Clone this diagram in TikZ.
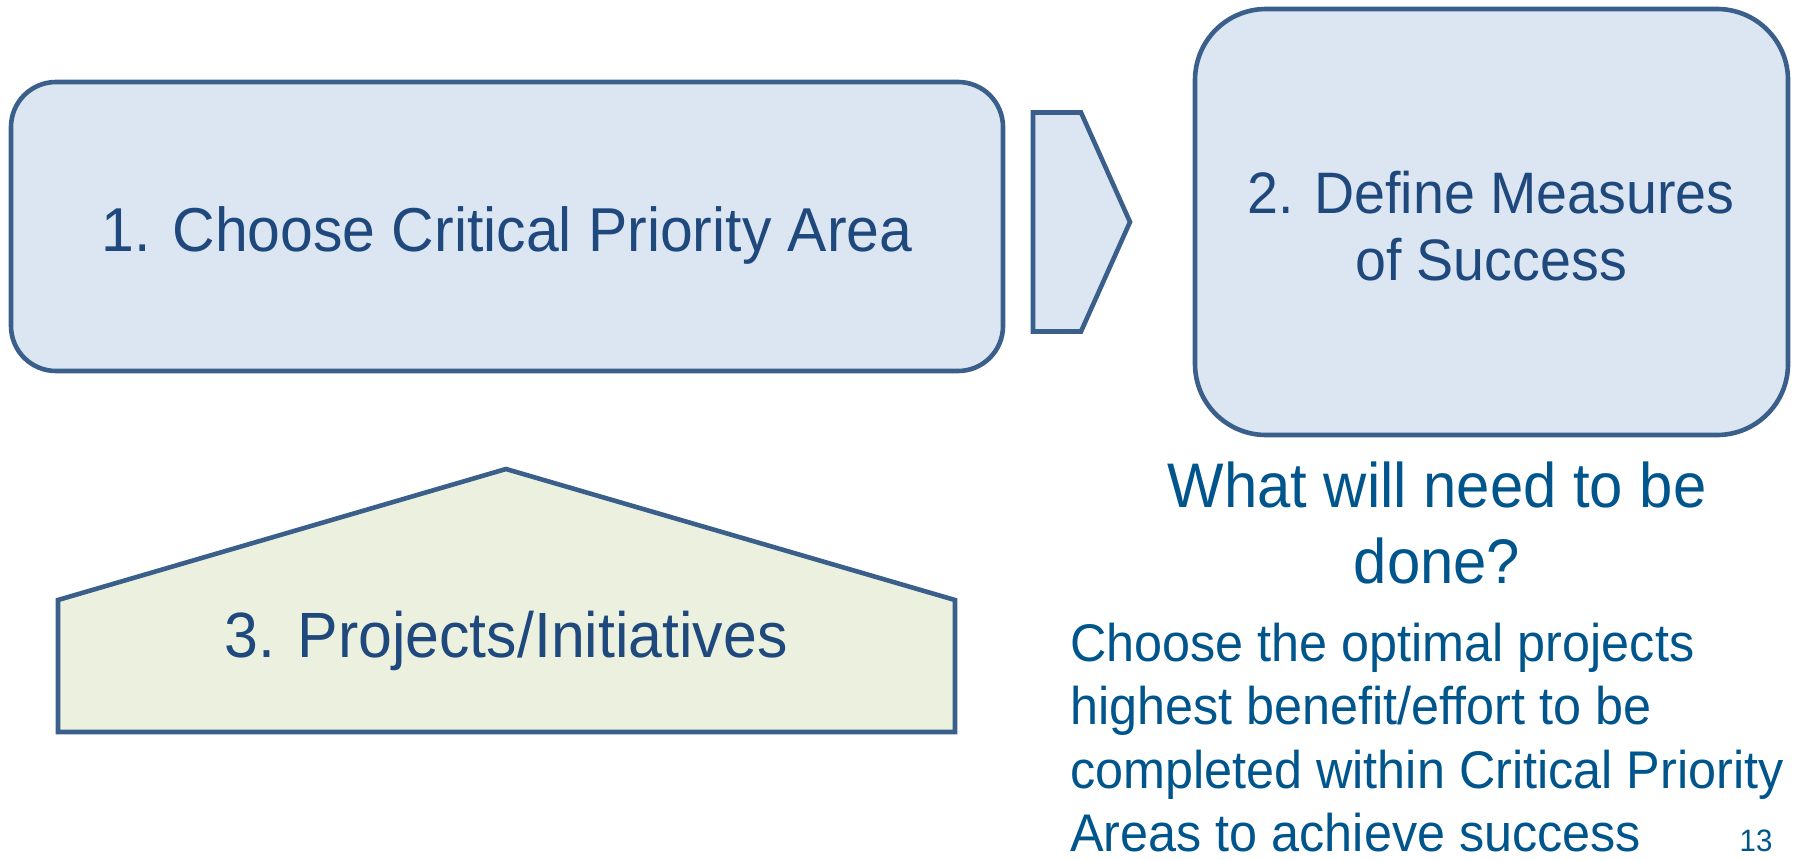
\documentclass[tikz,border=0pt]{standalone}
\usepackage{fontspec}
\setmainfont[FakeStretch=0.95]{Liberation Sans}
\definecolor{boxfill}{HTML}{DCE6F2}
\definecolor{greenfill}{HTML}{EBF1DE}
\definecolor{edge}{HTML}{3A5F8B}
\definecolor{boxtext}{HTML}{1F497D}
\definecolor{outtext}{HTML}{00558C}
\tikzset{
  stepbox/.style={draw=edge, line width=4.6pt, fill=boxfill, inner sep=0pt},
  shapeline/.style={draw=edge, line width=4.6pt, line join=miter},
  boxlabel/.style={text=boxtext, anchor=base, inner sep=0pt},
  outlabel/.style={text=outtext, anchor=base, inner sep=0pt},
}
\begin{document}
\begin{tikzpicture}[x=1pt,y=-1pt]
\useasboundingbox (0,0) rectangle (1795,859);
% box 1
\node[stepbox, rounded corners=45pt, minimum width=992pt, minimum height=289pt] (b1) at (507,226.5) {};
\node[boxlabel, font=\fontsize{62}{70}\selectfont] (t1) at (507,251) {1. Choose Critical Priority Area};
% chevron arrow
\draw[shapeline, fill=boxfill] (1033,112.5) -- (1081,112.5) -- (1130,222) -- (1081,331.5) -- (1033,331.5) -- cycle;
% box 2
\node[stepbox, rounded corners=71pt, minimum width=593pt, minimum height=426pt] (b2) at (1491.5,222) {};
\node[boxlabel, font=\fontsize{58.5}{66}\selectfont] (t2a) at (1491,213) {2. Define Measures};
\node[boxlabel, font=\fontsize{58.5}{66}\selectfont] (t2b) at (1491,280) {of Success};
% pentagon
\draw[shapeline, fill=greenfill] (58,732) -- (58,600) -- (506,469) -- (955,600) -- (955,732) -- cycle;
\node[boxlabel, font=\fontsize{64}{72}\selectfont] (t3) at (506,657) {3. Projects/Initiatives};
% question
\node[outlabel, font=\fontsize{63}{70}\selectfont] (q1) at (1437,507) {What will need to be};
\node[outlabel, font=\fontsize{63}{70}\selectfont] (q2) at (1437,583) {done?};
% paragraph
\node[outlabel, anchor=base west, font=\fontsize{53}{60}\selectfont] (p1) at (1070,661) {Choose the optimal projects};
\node[outlabel, anchor=base west, font=\fontsize{53}{60}\selectfont] (p2) at (1070,724.5) {highest benefit/effort to be};
\node[outlabel, anchor=base west, font=\fontsize{53}{60}\selectfont] (p3) at (1070,788) {completed within Critical Priority};
\node[outlabel, anchor=base west, text depth=0pt, font=\fontsize{53}{60}\selectfont] (p4) at (1070,851.5) {Areas to achieve success};
\node[outlabel, text depth=0pt, font=\fontsize{31}{36}\selectfont] (pg) at (1756,851.5) {13};
\end{tikzpicture}
\end{document}
